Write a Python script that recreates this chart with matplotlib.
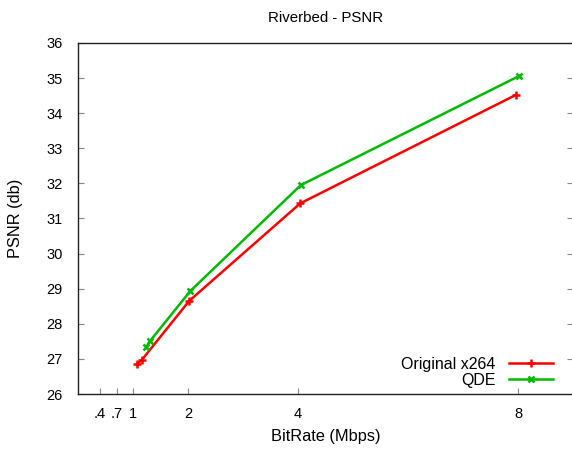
import matplotlib
matplotlib.use("Agg")
import matplotlib.pyplot as plt

plt.rcParams['font.family'] = ['Liberation Sans', 'DejaVu Sans']

# Data
x264_rate = [1.07, 1.16, 2.02, 4.04, 7.96]
x264_psnr = [26.85, 26.97, 28.65, 31.43, 34.52]
qde_rate = [1.24, 1.31, 2.04, 4.05, 8.02]
qde_psnr = [27.34, 27.51, 28.93, 31.95, 35.06]

xticks = [0.4, 0.7, 1, 2, 4, 8]
xtick_labels = [".4", ".7", "1", "2", "4", "8"]
yticks = [26, 27, 28, 29, 30, 31, 32, 33, 34, 35, 36]

fig = plt.figure(figsize=(5.72, 4.5), dpi=100)
ax = fig.add_axes([78/572, 1-394/450, (573-78)/572, (394-43)/450])

ax.plot(x264_rate, x264_psnr, color='#ff0000', lw=1.8, marker='+', ms=6, mew=1.8,
        label='Original x264')
ax.plot(qde_rate, qde_psnr, color='#00bb00', lw=1.8, marker='x', ms=5, mew=1.8,
        label='QDE')

ax.set_xlim(0, 9)
ax.set_ylim(26, 36)
ax.set_xticks(xticks)
ax.set_xticklabels(xtick_labels)
ax.set_yticks(yticks)

ax.tick_params(axis='both', direction='in', length=4, width=0.8, color='#888888',
               labelsize=10.5, pad=9)
ax.tick_params(axis='y', right=True, pad=11)
ax.tick_params(axis='x', top=False)

for s in ax.spines.values():
    s.set_linewidth(1.0)
    s.set_color('#222222')
ax.spines['right'].set_visible(False)

ax.set_title('Riverbed - PSNR', fontsize=10.8, pad=15)
ax.set_xlabel('BitRate (Mbps)', fontsize=11.8, labelpad=6)
ax.set_ylabel('PSNR (db)', fontsize=11.8, labelpad=17)

leg = ax.legend(loc='lower right', bbox_to_anchor=(0.973, 0.0), frameon=False,
                markerfirst=False, handlelength=2.8, fontsize=11.5,
                labelspacing=0.05, borderaxespad=0.0, handletextpad=0.8)
for t in leg.get_texts():
    t.set_ha('right')
leg._legend_box.align = 'right'

fig.savefig('out.png', dpi=100)
